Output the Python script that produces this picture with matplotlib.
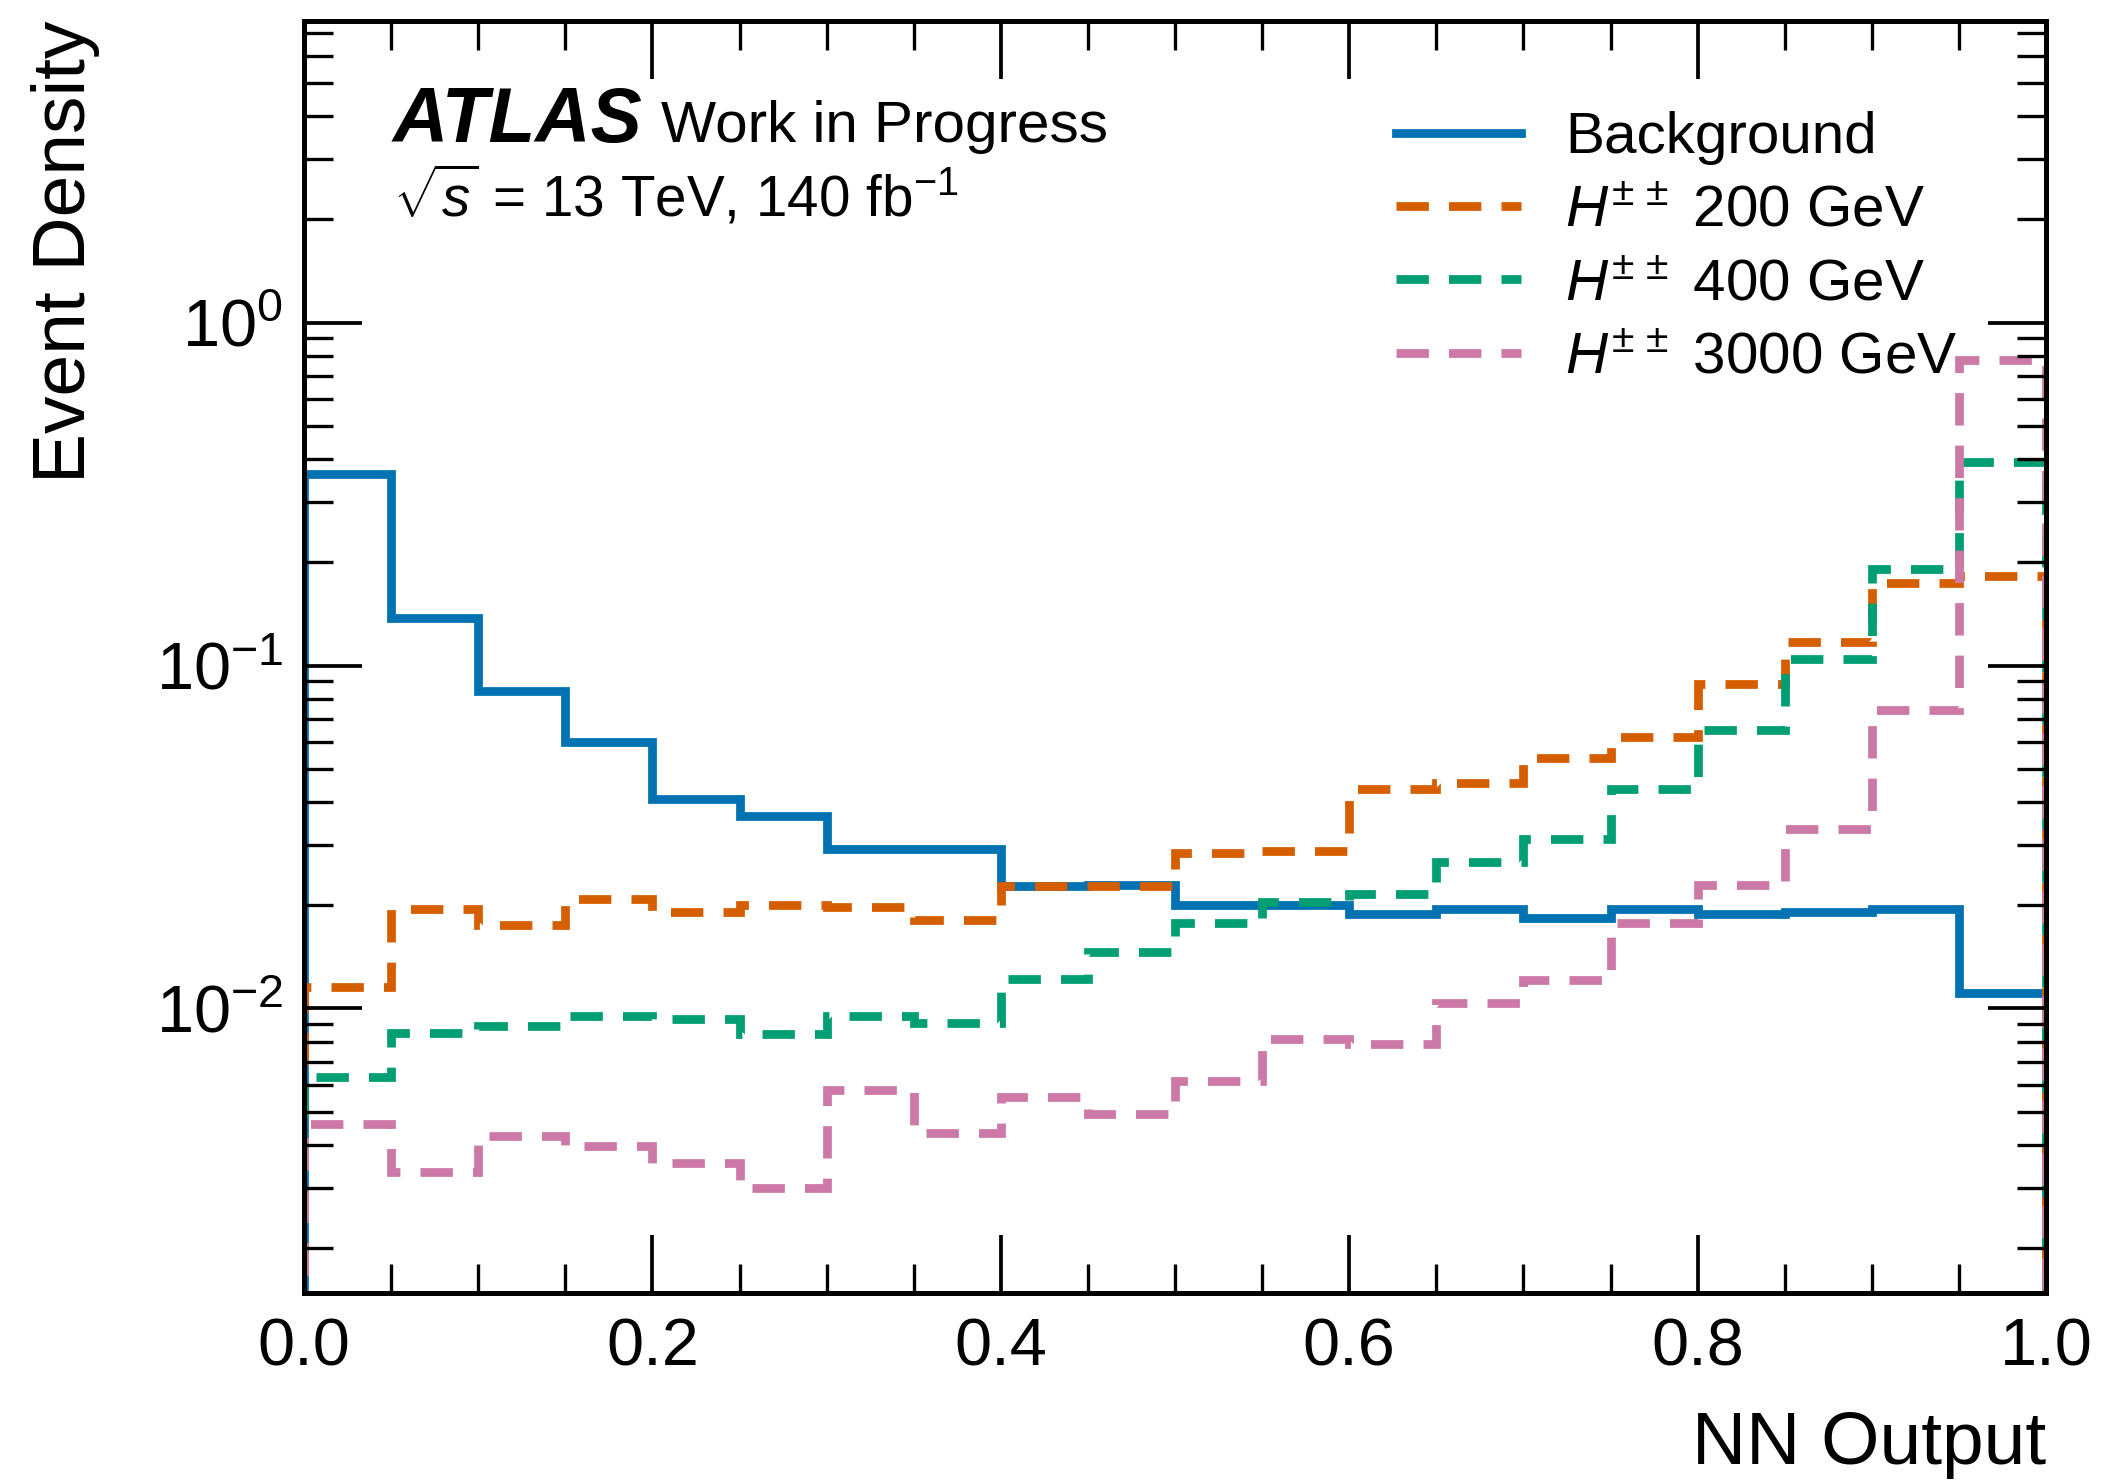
import numpy as np
import matplotlib
matplotlib.use("Agg")
import matplotlib.pyplot as plt
from matplotlib.ticker import MultipleLocator, LogLocator, NullFormatter

# ---- data: normalised NN-output distributions, 20 bins on [0, 1] ----
bin_edges = np.linspace(0.0, 1.0, 21)

background = [0.362, 0.138, 0.0843, 0.0599, 0.0407, 0.0365, 0.0292, 0.0292,
              0.0227, 0.0229, 0.0200, 0.0200, 0.0188, 0.0195, 0.0183, 0.0195,
              0.0189, 0.0191, 0.0195, 0.0111]
hpp_200 = [0.01155, 0.01945, 0.01746, 0.0209, 0.0191, 0.0200, 0.0198, 0.0181,
           0.0227, 0.0227, 0.0285, 0.0288, 0.0437, 0.0453, 0.0537, 0.0621,
           0.0881, 0.1175, 0.1746, 0.1827]
hpp_400 = [0.00632, 0.0085, 0.0089, 0.0095, 0.0093, 0.0084, 0.0095, 0.0091,
           0.0122, 0.0146, 0.0178, 0.0204, 0.0215, 0.0267, 0.0311, 0.0437,
           0.0649, 0.1047, 0.191, 0.392]
hpp_3000 = [0.00461, 0.00334, 0.00425, 0.00396, 0.00355, 0.0030, 0.00578,
            0.00433, 0.00552, 0.00491, 0.00616, 0.00813, 0.0079, 0.0104,
            0.0121, 0.0178, 0.0229, 0.0334, 0.0743, 0.778]

series_labels = ["Background", r"$H^{\pm\,\pm}$ 200 GeV",
                 r"$H^{\pm\,\pm}$ 400 GeV", r"$H^{\pm\,\pm}$ 3000 GeV"]
series_colors = ["#0072B2", "#D55E00", "#009E73", "#CC79A7"]
series_styles = ["-", (0, (3.7, 2.3)), (0, (3.7, 2.3)), (0, (3.7, 2.3))]

# ---- style ----
plt.rcParams.update({
    "font.family": ["Liberation Sans", "DejaVu Sans"],
    "mathtext.fontset": "custom",
    "mathtext.rm": "Liberation Sans",
    "mathtext.it": "Liberation Sans:italic",
    "mathtext.bf": "Liberation Sans:bold",
    "axes.linewidth": 1.2,
    "xtick.direction": "in",
    "ytick.direction": "in",
    "xtick.top": True,
    "ytick.right": True,
    "xtick.minor.visible": True,
    "ytick.minor.visible": True,
    "xtick.major.size": 14,
    "xtick.minor.size": 7,
    "ytick.major.size": 14,
    "ytick.minor.size": 7,
    "xtick.major.width": 0.9,
    "xtick.minor.width": 0.8,
    "ytick.major.width": 0.9,
    "ytick.minor.width": 0.8,
    "xtick.labelsize": 16,
    "ytick.labelsize": 16,
    "xtick.major.pad": 6,
    "ytick.major.pad": 5,
})

fig = plt.figure(figsize=(2101 / 300, 1484 / 300), dpi=300)
ax = fig.add_axes([304 / 2101, 1 - 1293 / 1484, 1742 / 2101, 1272 / 1484])

all_series = [background, hpp_200, hpp_400, hpp_3000]
for vals, lab, col, ls in zip(all_series, series_labels, series_colors, series_styles):
    ax.stairs(vals, bin_edges, baseline=1e-9, color=col, linestyle=ls,
              linewidth=2.1, label=lab)

ax.set_yscale("log")
ax.set_xlim(0.0, 1.0)
ax.set_ylim(1.48e-3, 7.58)

ax.xaxis.set_major_locator(MultipleLocator(0.2))
ax.xaxis.set_minor_locator(MultipleLocator(0.05))
ax.yaxis.set_major_locator(LogLocator(base=10, numticks=20))
ax.yaxis.set_minor_locator(LogLocator(base=10, subs=np.arange(2, 10), numticks=20))
ax.yaxis.set_minor_formatter(NullFormatter())
ax.xaxis.set_major_formatter(plt.FuncFormatter(lambda v, p: f"{v:.1f}"))

ax.set_xlabel("NN Output", fontsize=18, loc="right")
ax.xaxis.set_label_coords(1.0, -0.092)
ax.set_ylabel("Event Density", fontsize=18, loc="top")
ax.yaxis.set_label_coords(-0.117, 1.0)

# experiment label
ax.text(0.051, 0.905, "ATLAS", transform=ax.transAxes, fontsize=18.4,
        fontweight="bold", fontstyle="italic", va="baseline", ha="left")
ax.text(0.205, 0.905, "Work in Progress", transform=ax.transAxes, fontsize=14,
        va="baseline", ha="left")
ax.text(0.051, 0.846, r"$\sqrt{s}$ = 13 TeV, 140 fb$^{-1}$",
        transform=ax.transAxes, fontsize=13.6, va="baseline", ha="left")

ax.legend(loc="upper left", bbox_to_anchor=(0.627, 0.929), frameon=False,
          fontsize=14, handlelength=2.14, handletextpad=0.76,
          borderpad=0.0, borderaxespad=0.0, labelspacing=0.33)

fig.savefig("out.png", dpi=300)
